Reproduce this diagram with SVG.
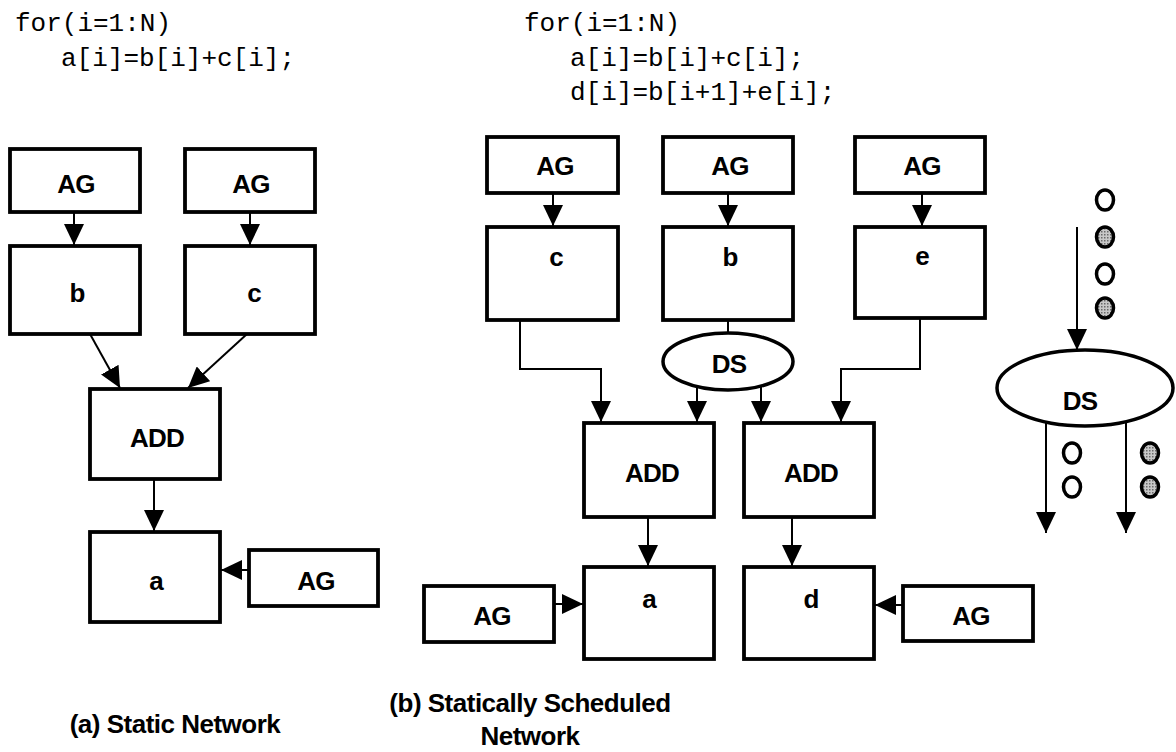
<svg xmlns="http://www.w3.org/2000/svg" width="1176" height="752" viewBox="0 0 1176 752">
  <style>
    .box { fill: #fff; stroke: #000; stroke-width: 3.8; }
    .ell { fill: #fff; stroke: #000; stroke-width: 3.5; }
    .lbl { font-family: "Liberation Sans", Arial, sans-serif; font-weight: bold; font-size: 26px; text-anchor: middle; fill: #000; letter-spacing: -0.8px; }
    .code { font-family: "Liberation Mono", "Courier New", monospace; font-size: 26px; fill: #000; }
    .cap { font-family: "Liberation Sans", Arial, sans-serif; font-weight: bold; font-size: 26px; text-anchor: middle; fill: #000; letter-spacing: -0.5px; }
    .wire { fill: none; stroke: #000; stroke-width: 2; }
    .arr { marker-end: url(#head); }
    .tok { stroke: #000; stroke-width: 3.5; }
    .tok-open { fill: #fff; }
    .tok-fill { fill: url(#stipple); }
  </style>
  <defs>
    <marker id="head" markerUnits="userSpaceOnUse" markerWidth="21" markerHeight="20" refX="21" refY="10" orient="auto">
      <path d="M0,0 L21,10 L0,20 z" fill="#000"/>
    </marker>
    <pattern id="stipple" patternUnits="userSpaceOnUse" width="3" height="3">
      <rect width="3" height="3" fill="#c8c8c8"/>
      <rect width="1.5" height="1.5" fill="#6a6a6a"/>
    </pattern>
  </defs>

  <rect width="1176" height="752" fill="#fff"/>

  <!-- loop source code -->
  <g id="code-a">
    <text class="code" x="15" y="31">for(i=1:N)</text>
    <text class="code" x="61" y="66">a[i]=b[i]+c[i];</text>
  </g>
  <g id="code-b">
    <text class="code" x="524" y="31">for(i=1:N)</text>
    <text class="code" x="570" y="66">a[i]=b[i]+c[i];</text>
    <text class="code" x="570" y="100">d[i]=b[i+1]+e[i];</text>
  </g>

  <!-- connectors -->
  <g id="connectors">
    <!-- (a) static network -->
    <path class="wire arr" d="M74,212 V245"/>
    <path class="wire arr" d="M250,212 V245"/>
    <path class="wire arr" d="M90,334 L120,388"/>
    <path class="wire arr" d="M247,334 L188,388"/>
    <path class="wire arr" d="M154,479 V531"/>
    <path class="wire arr" d="M249,570 H221"/>
    <!-- (b) statically scheduled network -->
    <path class="wire arr" d="M553,193 V226"/>
    <path class="wire arr" d="M728,193 V226"/>
    <path class="wire arr" d="M922,193 V226"/>
    <path class="wire arr" d="M520,320 V369 H601 V422"/>
    <path class="wire" d="M728,320 V333"/>
    <path class="wire arr" d="M697,386 V422"/>
    <path class="wire arr" d="M761,386 V422"/>
    <path class="wire arr" d="M920,318 V369 H841 V422"/>
    <path class="wire arr" d="M648,517 V566"/>
    <path class="wire arr" d="M792,517 V566"/>
    <path class="wire arr" d="M554,604 H583"/>
    <path class="wire arr" d="M903,605 H875"/>
    <!-- data splitter detail -->
    <path class="wire arr" d="M1077,227 V350"/>
    <path class="wire arr" d="M1046,421 V533"/>
    <path class="wire arr" d="M1126,421 V533"/>
  </g>

  <!-- (a) static network nodes -->
  <g id="a-ag1"><rect class="box" x="10" y="149" width="130" height="63"/><text class="lbl" x="76" y="193">AG</text></g>
  <g id="a-ag2"><rect class="box" x="185" y="149" width="130" height="63"/><text class="lbl" x="251" y="193">AG</text></g>
  <g id="a-b"><rect class="box" x="10" y="246" width="130" height="88"/><text class="lbl" x="77" y="302">b</text></g>
  <g id="a-c"><rect class="box" x="185" y="246" width="130" height="88"/><text class="lbl" x="254" y="302">c</text></g>
  <g id="a-add"><rect class="box" x="90" y="389" width="130" height="90"/><text class="lbl" x="157" y="447">ADD</text></g>
  <g id="a-a"><rect class="box" x="90" y="532" width="130" height="90"/><text class="lbl" x="156" y="590">a</text></g>
  <g id="a-ag3"><rect class="box" x="249" y="550" width="129" height="56"/><text class="lbl" x="316" y="590">AG</text></g>

  <!-- (b) statically scheduled network nodes -->
  <g id="b-ag1"><rect class="box" x="487" y="137" width="131" height="56"/><text class="lbl" x="555" y="175">AG</text></g>
  <g id="b-ag2"><rect class="box" x="663" y="137" width="130" height="56"/><text class="lbl" x="730" y="175">AG</text></g>
  <g id="b-ag3"><rect class="box" x="855" y="137" width="130" height="56"/><text class="lbl" x="922" y="175">AG</text></g>
  <g id="b-c"><rect class="box" x="487" y="227" width="131" height="93"/><text class="lbl" x="556" y="266">c</text></g>
  <g id="b-b"><rect class="box" x="663" y="227" width="130" height="93"/><text class="lbl" x="730" y="266">b</text></g>
  <g id="b-e"><rect class="box" x="855" y="227" width="130" height="91"/><text class="lbl" x="922" y="265">e</text></g>
  <g id="b-ds"><ellipse class="ell" cx="728" cy="361.5" rx="65" ry="28.5"/><text class="lbl" x="729" y="373">DS</text></g>
  <g id="b-add1"><rect class="box" x="584" y="423" width="130" height="94"/><text class="lbl" x="652" y="482">ADD</text></g>
  <g id="b-add2"><rect class="box" x="744" y="423" width="130" height="94"/><text class="lbl" x="811" y="482">ADD</text></g>
  <g id="b-a"><rect class="box" x="584" y="567" width="130" height="92"/><text class="lbl" x="649" y="608">a</text></g>
  <g id="b-d"><rect class="box" x="744" y="567" width="130" height="92"/><text class="lbl" x="811" y="608">d</text></g>
  <g id="b-ag4"><rect class="box" x="424" y="586" width="130" height="56"/><text class="lbl" x="492" y="625">AG</text></g>
  <g id="b-ag5"><rect class="box" x="903" y="586" width="130" height="55"/><text class="lbl" x="971" y="625">AG</text></g>

  <!-- data splitter with interleaved token stream -->
  <g id="ds-detail">
    <ellipse class="ell" cx="1085" cy="388" rx="88" ry="38"/>
    <text class="lbl" x="1080" y="410">DS</text>
  </g>
  <g id="tokens">
    <ellipse class="tok tok-open" cx="1105" cy="200" rx="8.5" ry="10"/>
    <ellipse class="tok tok-fill" cx="1105" cy="237" rx="8.5" ry="10"/>
    <ellipse class="tok tok-open" cx="1105" cy="274" rx="8.5" ry="10"/>
    <ellipse class="tok tok-fill" cx="1105" cy="308" rx="8.5" ry="10"/>
    <ellipse class="tok tok-open" cx="1072" cy="453" rx="8.5" ry="10"/>
    <ellipse class="tok tok-open" cx="1072" cy="487" rx="8.5" ry="10"/>
    <ellipse class="tok tok-fill" cx="1150" cy="453" rx="8.5" ry="10"/>
    <ellipse class="tok tok-fill" cx="1150" cy="487" rx="8.5" ry="10"/>
  </g>

  <!-- captions -->
  <g id="captions">
    <text class="cap" x="175" y="733">(a) Static Network</text>
    <text class="cap" x="530" y="712">(b) Statically Scheduled</text>
    <text class="cap" x="530" y="745">Network</text>
  </g>
</svg>
